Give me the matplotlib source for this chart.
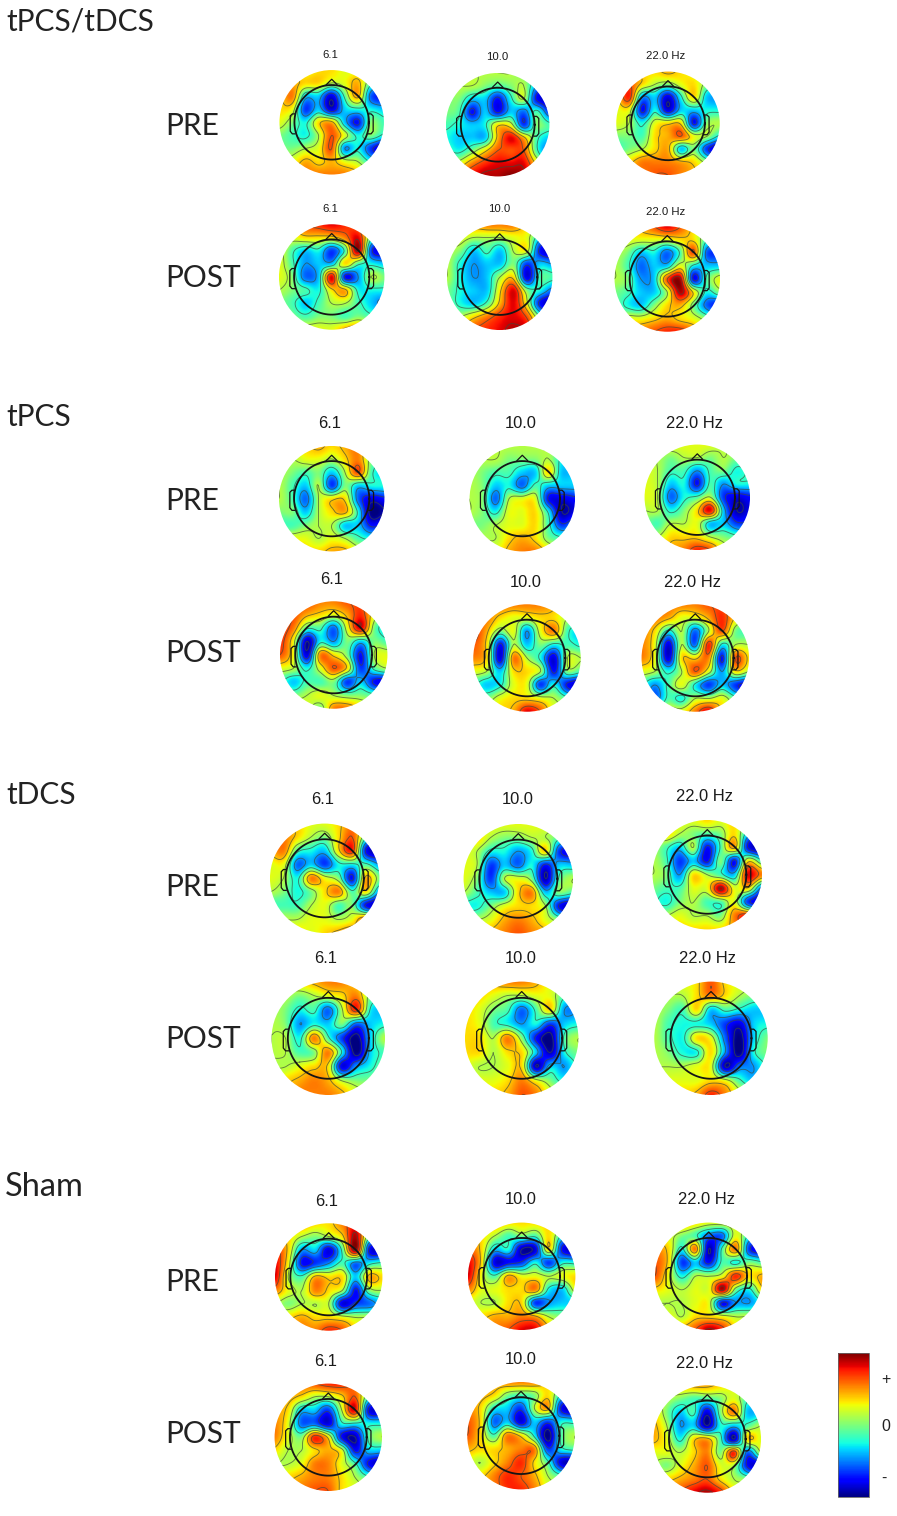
import numpy as np
import matplotlib
matplotlib.use("Agg")
import matplotlib.pyplot as plt
from matplotlib.colors import FuncNorm
from matplotlib.patches import Circle

W, H = 897, 1516
plt.rcParams['font.family'] = ['Liberation Sans', 'DejaVu Sans']

# ---- values (tenths of the colour range, read by eye, rows top to bottom) ----
combo_pre_61 = [[2,2,2,3,3,2,2,1,0],[3,4,3,3,1,2,4,-1,-4],[3,5,-3,-3,-8,-1,4,-5,-7],[3,2,-6,-3,-8,-3,-2,-2,-3],[2,0,-2,3,4,-3,-7,0,-1],[0,-1,-2,1,6,2,-2,0,-2],[0,0,1,2,6,-4,-2,-6,-9],[1,2,4,3,4,2,1,-2,-4],[3,4,5,5,5,5,4,1,0]]
combo_pre_10 = [[1,1,1,1,1,1,0,0,-2],[1,1,1,0,-1,0,1,-4,-7],[0,0,-3,-3,-7,-2,1,-7,-9],[0,-1,-7,-3,-7,-3,-5,-1,-6],[-1,-2,-3,-2,3,2,-6,0,-1],[-2,-3,-3,-3,4,8,4,-1,-3],[-1,-2,0,3,6,6,6,-1,-5],[1,2,5,7,8,8,8,3,-2],[4,7,8,9,9,10,9,6,2]]
combo_pre_22 = [[3,3,3,3,4,3,2,1,0],[4,6,3,1,0,2,3,0,-2],[3,7,-4,-3,-8,-2,3,-3,-4],[2,2,-7,-2,-8,-3,-3,-2,-2],[2,1,-2,2,3,3,-7,0,1],[0,0,-1,3,4,6,2,1,-2],[-1,0,1,3,4,-3,0,-6,-9],[2,3,5,5,5,4,3,0,-4],[4,5,5,6,6,5,4,2,0]]
combo_post_61 = [[2,4,6,7,8,7,5,0,0],[3,2,3,3,3,5,8,-1,-3],[2,-1,-3,-2,-6,-1,9,-6,-8],[2,-1,-4,-3,-3,3,-1,-2,-3],[2,0,-5,-3,8,-7,-4,1,0],[1,0,-1,-2,3,4,-2,-2,-2],[0,-1,-3,-1,1,1,-1,-3,-5],[1,0,-1,0,0,-1,0,-1,-2],[1,2,2,2,2,4,5,2,0]]
combo_post_10 = [[2,3,4,5,5,5,3,1,0],[2,2,1,1,1,2,2,-3,-6],[1,0,-3,-1,-3,1,2,-7,-9],[1,-2,-4,-3,-3,0,-6,-3,-4],[1,-2,-4,-3,1,3,-8,-1,-1],[0,-2,-3,-3,3,8,0,-2,-5],[0,-2,-3,-1,4,8,2,-7,-9],[1,1,3,5,7,8,6,-1,-5],[3,4,6,7,8,9,8,3,-1]]
combo_post_22 = [[1,3,4,6,8,6,3,1,0],[2,2,2,2,2,3,3,-1,-2],[1,0,-3,-2,-5,-1,6,-5,-6],[1,-1,-5,-3,-3,2,-2,-3,-3],[1,0,-4,-3,6,9,-7,-1,2],[0,-1,-3,-3,1,9,3,-2,0],[0,-2,-3,0,3,4,0,-5,-7],[1,2,2,3,4,3,2,0,-3],[3,4,5,6,7,7,5,2,0]]

tpcs_pre_61 = [[1,2,3,4,3,4,5,0,0],[2,1,2,2,1,3,5,0,-1],[1,0,-1,0,-3,1,6,-1,-3],[1,-1,-3,1,-6,0,-3,-2,-2],[1,-1,-5,1,3,3,-5,-8,-7],[0,0,-3,1,3,4,-2,-10,-9],[-1,-1,0,1,1,-3,-3,-7,-6],[1,2,2,1,2,1,-1,-2,-2],[2,3,3,3,4,4,2,1,0]]
tpcs_pre_10 = [[1,1,1,1,1,1,1,0,-1],[1,1,1,0,0,0,1,-2,-3],[1,0,-1,-1,-3,-3,3,-3,-3],[1,0,-3,-2,-5,-1,-3,-3,-3],[1,0,-5,1,2,2,-7,-8,-7],[1,0,-2,2,2,3,-2,-9,-8],[0,0,1,2,2,3,-1,-6,-4],[1,1,1,3,4,3,0,-1,-1],[2,2,2,4,5,5,3,1,0]]
tpcs_pre_22 = [[2,2,2,2,2,2,1,1,0],[2,1,0,1,1,0,1,0,0],[2,1,-1,-1,-4,-1,0,-2,-1],[2,1,-3,-2,-7,-1,-4,-2,-2],[2,1,-5,-2,-1,1,-6,-8,-7],[1,1,-2,0,3,8,-3,-9,-8],[0,-1,1,1,2,-3,-3,-6,-6],[1,1,3,3,3,1,0,-1,-2],[2,3,4,5,7,6,2,1,0]]
tpcs_post_61 = [[5,5,6,5,5,6,6,2,0],[6,6,4,3,2,4,7,2,-1],[7,5,-1,-1,-5,2,8,0,-3],[7,2,-9,-2,-4,0,-3,0,-1],[6,2,-8,5,3,0,-7,1,2],[2,1,-2,2,6,3,-6,-1,1],[-1,-3,-1,-1,0,-6,-3,-7,-8],[1,0,1,2,1,0,0,-1,-3],[2,3,2,0,5,5,3,1,0]]
tpcs_post_10 = [[3,4,5,5,5,5,4,1,0],[5,5,3,2,2,3,3,1,0],[7,4,0,2,-4,2,5,-1,-3],[6,3,-7,1,-3,0,-2,-1,-2],[5,3,-8,5,1,-2,-8,1,1],[2,1,-3,3,3,1,-7,0,-1],[-1,-3,-2,2,2,-6,-2,-7,-9],[1,0,2,3,3,2,1,-1,-4],[2,2,3,4,8,6,2,1,0]]
tpcs_post_22 = [[3,4,5,5,5,6,6,2,0],[5,5,4,2,2,4,7,3,0],[5,3,-2,1,-5,1,6,0,-1],[5,2,-8,1,-5,7,-2,1,1],[5,2,-8,3,3,5,-7,6,3],[2,1,-2,1,6,2,-4,3,1],[-1,-4,-1,2,-2,-6,-3,-6,-8],[0,-5,-1,-2,1,1,2,-1,-4],[2,0,2,2,5,8,3,1,0]]

tdcs_pre_61 = [[2,3,3,2,2,3,5,2,0],[4,5,3,1,0,3,6,-1,-5],[4,5,-1,-2,-3,3,7,-7,-9],[2,2,-5,-3,-6,-2,-2,-1,-4],[2,1,-2,5,2,0,-7,4,0],[1,0,-2,0,3,5,-1,3,-4],[-1,-1,-1,1,2,-1,0,-7,-9],[1,1,1,2,2,1,2,5,0],[2,2,3,2,3,4,5,2,0]]
tdcs_pre_10 = [[1,2,2,2,2,2,2,1,0],[2,3,1,0,0,1,1,-1,-4],[2,1,-2,-2,-4,-2,3,-6,-8],[2,1,-6,-3,-5,-2,-7,-3,-3],[2,0,-6,1,2,0,-9,-1,1],[1,-1,-3,-3,3,5,-3,0,-1],[-2,-2,0,2,3,3,1,-7,-9],[1,1,2,4,5,4,2,0,-3],[2,3,4,5,6,5,4,1,0]]
tdcs_pre_22 = [[1,2,2,2,3,2,3,1,0],[1,3,1,0,-1,0,3,-3,-6],[1,-1,-3,1,-7,-1,4,-7,-9],[1,-1,-6,-3,-7,0,-7,3,-1],[1,0,-4,3,1,-1,-3,8,5],[0,-1,-1,2,2,9,2,3,-5],[-1,-2,0,1,-1,-1,2,-6,-8],[1,1,2,1,1,0,5,7,-1],[2,2,3,3,3,3,4,5,0]]
tdcs_post_61 = [[1,2,3,4,5,5,3,1,0],[1,1,0,1,2,3,5,0,0],[1,0,-2,-1,-5,1,7,-2,-3],[1,0,-4,-2,-3,0,-5,-3,-2],[1,1,-2,5,-1,-6,-10,-3,1],[1,1,-1,0,5,-2,-10,-3,-1],[1,1,2,3,3,-8,-4,-2,0],[1,3,4,5,4,1,0,0,1],[2,3,5,5,5,4,2,1,0]]
tdcs_post_10 = [[2,3,4,5,5,4,2,1,0],[3,3,2,1,1,2,2,-1,-2],[3,2,0,-1,-5,-1,3,-4,-4],[3,2,-1,-2,-4,-2,-6,-3,-2],[3,3,1,5,0,-7,-10,-1,1],[3,3,1,3,3,-3,-9,-2,0],[2,1,1,2,3,-9,-3,-4,-1],[2,2,2,3,5,2,0,-2,0],[2,3,3,4,6,5,2,1,0]]
tdcs_post_22 = [[1,2,2,3,6,3,2,1,0],[1,1,1,3,5,3,1,0,0],[1,0,-1,3,-3,-1,-2,-3,-3],[1,-1,-2,-2,-3,-6,-8,-3,-2],[1,-1,-2,3,2,-5,-10,-3,0],[1,0,-2,-2,3,-4,-10,-2,0],[1,1,1,2,2,-9,-5,-4,-1],[2,2,2,2,3,2,-1,-3,0],[2,3,3,4,7,5,2,1,0]]

sham_pre_61 = [[1,3,4,3,3,5,7,1,0],[4,3,1,0,1,3,9,-1,-3],[7,3,-4,-3,-8,-1,9,-7,-8],[8,2,-7,-6,-4,-1,-5,-2,-1],[8,1,-1,4,3,3,-3,4,3],[5,2,1,5,3,1,-7,0,1],[1,0,1,1,1,-8,-6,-5,-3],[2,3,4,3,3,2,1,1,0],[3,4,5,5,7,6,3,1,0]]
sham_pre_10 = [[2,3,4,3,3,3,3,2,0],[4,3,1,-1,0,-1,3,-2,-4],[6,3,-3,-2,-9,-8,3,-7,-9],[8,3,-8,-7,-6,-2,-6,-2,-2],[8,2,-1,4,2,2,1,2,3],[5,2,2,3,3,5,-2,-3,2],[2,1,1,3,3,-6,-4,-3,-3],[3,3,4,4,5,4,1,0,0],[3,4,5,6,8,8,4,1,0]]
sham_pre_22 = [[1,3,4,3,2,2,2,1,0],[3,2,0,-1,-5,-5,2,-2,-4],[5,3,-2,5,-9,-1,5,-6,-8],[6,3,-6,-3,-7,-1,-2,0,-1],[6,2,-2,1,1,2,7,3,4],[3,2,1,2,2,9,0,-2,3],[1,1,1,2,2,-7,-4,-4,-2],[1,2,1,3,3,2,1,1,0],[2,3,4,6,9,7,3,1,0]]
sham_post_61 = [[2,3,5,6,7,7,5,1,0],[3,4,3,1,1,3,6,-1,-3],[4,3,-3,-3,-6,1,8,-7,-8],[5,2,-5,-5,-8,-2,-2,-2,-2],[5,2,0,7,3,-7,-9,-1,1],[3,1,1,3,4,2,-7,-3,-3],[1,1,2,5,5,2,-1,-7,-9],[2,3,4,5,5,3,1,-1,-2],[3,4,5,6,6,3,2,1,0]]
sham_post_10 = [[2,3,4,5,5,5,3,1,0],[4,4,3,0,-1,0,3,-2,-4],[5,3,-2,-3,-6,1,4,-7,-9],[6,3,-5,-3,-8,-3,-6,-2,-2],[6,3,-1,5,3,-2,-10,-1,1],[4,3,3,4,5,5,-6,-2,-1],[2,1,3,5,7,3,-1,-8,-9],[3,3,5,7,6,4,1,-1,-4],[3,4,5,7,7,5,2,1,0]]
sham_post_22 = [[1,2,3,4,4,3,2,1,0],[2,1,0,-1,-1,0,2,-1,-1],[3,0,-3,-1,-8,0,5,-3,-3],[4,1,-4,-3,-9,-2,-3,-1,1],[4,2,-2,3,4,-1,-9,3,2],[2,2,1,3,5,0,7,-5,1],[1,0,2,4,6,2,1,-7,-9],[2,3,4,5,6,3,1,0,-3],[3,4,6,8,9,7,3,1,0]]

group_names = ['tPCS/tDCS', 'tPCS', 'tDCS', 'Sham']
row_names = ['PRE', 'POST']
band_labels = ['6.1', '10.0', '22.0 Hz']
grids = [combo_pre_61, combo_pre_10, combo_pre_22, combo_post_61, combo_post_10, combo_post_22,
         tpcs_pre_61, tpcs_pre_10, tpcs_pre_22, tpcs_post_61, tpcs_post_10, tpcs_post_22,
         tdcs_pre_61, tdcs_pre_10, tdcs_pre_22, tdcs_post_61, tdcs_post_10, tdcs_post_22,
         sham_pre_61, sham_pre_10, sham_pre_22, sham_post_61, sham_post_10, sham_post_22]

# ---- layout, in reference pixels ----
centres = [(331.7,122.3),(497.7,124.7),(668,123.3),(331.7,277),(499.7,277.3),(667.3,279),
           (331.7,498.7),(522.3,498.7),(697.3,497.3),(333.7,655),(527,658),(695.3,658),
           (324.7,878.3),(518.3,878.7),(707.3,874.7),(328.3,1038.3),(521.7,1038.3),(711,1038.3),
           (328.7,1277),(521.7,1276.3),(708.7,1276.3),(328.3,1437.3),(521,1435.7),(707.3,1439)]
radii = [52.5,52,52,53,53,53, 53,53,53,54,54,54, 55,55,55,57,57,57, 54,54,54,54,54,54]
label_xy = [(330.7,55),(497.3,57.3),(665.7,56),(330.7,209.3),(499,209.3),(665.7,211.7),
            (329.3,424),(520.7,424),(695,423.3),(331.7,580),(526,582.7),(692.7,582.7),
            (322.3,800),(517.7,800),(705,796.7),(325.7,958.3),(521,958.3),(707.7,958.3),
            (326.7,1201),(521,1200),(706.7,1200),(326,1361),(520.7,1360),(705,1364)]
label_px = [11.4]*6 + [16.5]*18
group_y = [21, 417, 795, 1187]
group_size = [21.5, 21.5, 21.5, 23.5]
group_x = [6, 6, 6, 5]
row_y = [126, 278, 501, 653, 887, 1039, 1282, 1434]

def smooth(z, n=12):
    """Catmull-Rom resampling of the coarse grid for drawing."""
    z = np.asarray(z, float)
    def along(a):
        m = a.shape[0]
        t = np.linspace(0, m - 1, (m - 1) * n + 1)
        i = np.clip(t.astype(int), 0, m - 2)
        u = (t - i)[:, None]
        p0 = a[np.clip(i - 1, 0, m - 1)]; p1 = a[i]; p2 = a[i + 1]; p3 = a[np.clip(i + 2, 0, m - 1)]
        return 0.5 * (2 * p1 + (p2 - p0) * u + (2 * p0 - 5 * p1 + 4 * p2 - p3) * u**2 + (3 * p1 - p0 - 3 * p2 + p3) * u**3)
    return along(along(z).T).T

fig = plt.figure(figsize=(W / 100, H / 100), dpi=100, facecolor='white')
page = fig.add_axes([0, 0, 1, 1])
page.set_xlim(0, W); page.set_ylim(H, 0); page.axis('off')

levels = np.array([-0.9, -0.65, -0.4, -0.15, 0.1, 0.35, 0.6, 0.85])
norm = FuncNorm((lambda v: np.sign(v) * np.abs(v)**0.87,
                 lambda v: np.sign(v) * np.abs(v)**(1 / 0.87)), vmin=-1, vmax=1)
ear_x = [0.70, 0.75, 0.79, 0.79, 0.75, 0.70]
ear_y = [0.16, 0.16, 0.12, -0.17, -0.22, -0.22]
theta = np.linspace(0, 2 * np.pi, 200)

for grid, (cx, cy), r in zip(grids, centres, radii):
    ax = fig.add_axes([(cx - r) / W, 1 - (cy + r) / H, 2 * r / W, 2 * r / H])
    ax.set_xlim(-1, 1); ax.set_ylim(-1, 1); ax.axis('off')
    z = smooth(grid) / 10.0
    clip = Circle((0, 0), 0.995, transform=ax.transData)
    im = ax.imshow(z, extent=(-1, 1, -1, 1), origin='upper', cmap='jet', norm=norm,
                   interpolation='bilinear', aspect='equal')
    im.set_clip_path(clip)
    xs = np.linspace(-1, 1, z.shape[1]); ys = np.linspace(1, -1, z.shape[0])
    cs = ax.contour(xs, ys, z, levels=levels, colors='#3c4a3c', linewidths=0.65,
                    alpha=0.7, linestyles='solid')
    cs.set_clip_path(clip)
    ax.plot(0.71 * np.cos(theta), 0.71 * np.sin(theta), color='#151515', lw=1.3)
    ax.plot([-0.1, 0, 0.1], [0.72, 0.82, 0.72], color='#151515', lw=0.9)
    ax.plot(ear_x, ear_y, color='#151515', lw=0.9)
    ax.plot(-np.array(ear_x), ear_y, color='#151515', lw=0.9)

for text, (x, y), px in zip(band_labels * 8, label_xy, label_px):
    page.text(x, y, text, ha='center', va='center', fontsize=px * 0.72, color='#1a1a1a')
for text, x, y, size in zip(group_names, group_x, group_y, group_size):
    page.text(x, y, text, ha='left', va='center', fontsize=size, family=['Lato', 'DejaVu Sans'], color='#222222')
for text, y in zip(row_names * 4, row_y):
    page.text(165, y, text, ha='left', va='center', fontsize=21.5, family=['Lato', 'DejaVu Sans'], color='#222222')

cax = fig.add_axes([838.3 / W, 1 - 1497.3 / H, 30.7 / W, 144 / H])
sm = plt.cm.ScalarMappable(norm=plt.Normalize(-1, 1), cmap='jet')
cb = fig.colorbar(sm, cax=cax)
cb.set_ticks([0.66, 0.0, -0.71], labels=['+', '0', '-'])
cb.ax.tick_params(length=0, labelsize=11.5, pad=9, colors='#222222')
cb.outline.set_edgecolor('#666666'); cb.outline.set_linewidth(0.6)

fig.savefig('out.png', dpi=100)
